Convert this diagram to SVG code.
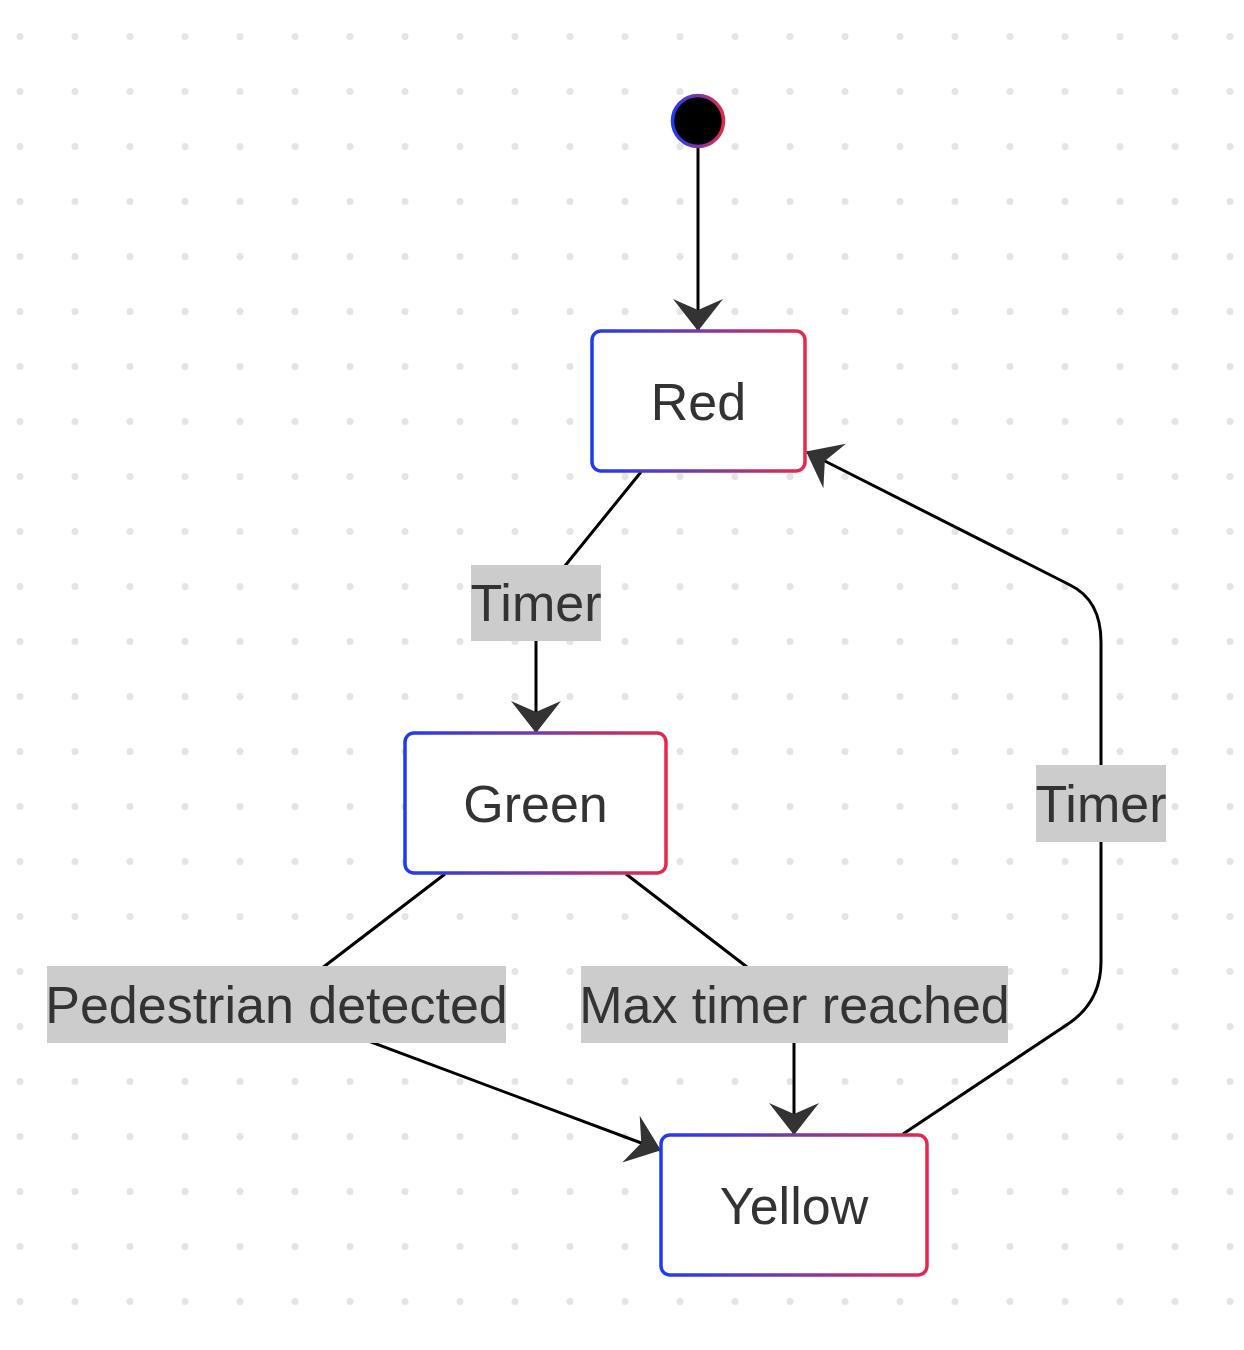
<svg xmlns="http://www.w3.org/2000/svg" width="1244" height="1350" viewBox="0 0 1244 1350">
<style>
.node{fill:#fff;stroke:url(#g);stroke-width:3.5}
.nt{font-family:"Liberation Sans",Arial,sans-serif;font-size:52px;fill:#333;text-anchor:middle}
.edge{fill:none;stroke:#000;stroke-width:3}
.lb{fill:#cccccc}
</style>
<defs>
<pattern id="dots" x="0" y="0" width="55" height="55" patternUnits="userSpaceOnUse">
<circle cx="20" cy="36.5" r="3.5" fill="#e3e3e8"/>
</pattern>
<linearGradient id="g" x1="0" y1="0" x2="1" y2="0">
<stop offset="0" stop-color="#1f3bf0"/>
<stop offset="0.5" stop-color="#7a3aa8"/>
<stop offset="1" stop-color="#e5294a"/>
</linearGradient>
<marker id="arr" viewBox="0 0 32 50" refX="31" refY="25" markerWidth="32" markerHeight="50" markerUnits="userSpaceOnUse" orient="auto">
<path d="M0,0 L32,25 L0,50 L11,25 Z" fill="#333"/>
</marker>
</defs>
<rect width="1244" height="1350" fill="#fff"/>
<rect width="1244" height="1350" fill="url(#dots)"/>
<g id="edges">
<path class="edge" d="M698,147 L698,330" marker-end="url(#arr)"/>
<path class="edge" d="M641,472 L560,572 Q536,602 536,640 L536,732" marker-end="url(#arr)"/>
<path class="edge" d="M445,874 L300,985 Q290,995 300,1005 L360,1038 L660,1150" marker-end="url(#arr)"/>
<path class="edge" d="M626,874 L760,977 Q794,1004 794,1040 L794,1134" marker-end="url(#arr)"/>
<path class="edge" d="M903,1134 L1068,1024 Q1101,1002 1101,962 L1101,642 Q1101,600 1070,585 L807,452" marker-end="url(#arr)"/>
</g>
<g id="start"><circle cx="698" cy="121" r="25.5" fill="#000" stroke="url(#g)" stroke-width="3.5"/></g>
<g id="red"><rect class="node" x="592" y="331" width="213" height="140" rx="9"/><text class="nt" x="698.5" y="420">Red</text></g>
<g id="green"><rect class="node" x="405" y="733" width="261" height="140" rx="9"/><text class="nt" x="535.5" y="822">Green</text></g>
<g id="yellow"><rect class="node" x="661" y="1135" width="266" height="140" rx="9"/><text class="nt" x="794" y="1224">Yellow</text></g>
<g id="label-timer-1"><rect class="lb" x="471" y="565" width="130" height="76"/><text class="nt" x="536" y="621">Timer</text></g>
<g id="label-pedestrian"><rect class="lb" x="47" y="966" width="459" height="77"/><text class="nt" x="276.5" y="1023">Pedestrian detected</text></g>
<g id="label-max"><rect class="lb" x="581" y="966" width="427" height="77"/><text class="nt" x="794.5" y="1023">Max timer reached</text></g>
<g id="label-timer-2"><rect class="lb" x="1036" y="765" width="130" height="77"/><text class="nt" x="1101" y="822">Timer</text></g>
</svg>
